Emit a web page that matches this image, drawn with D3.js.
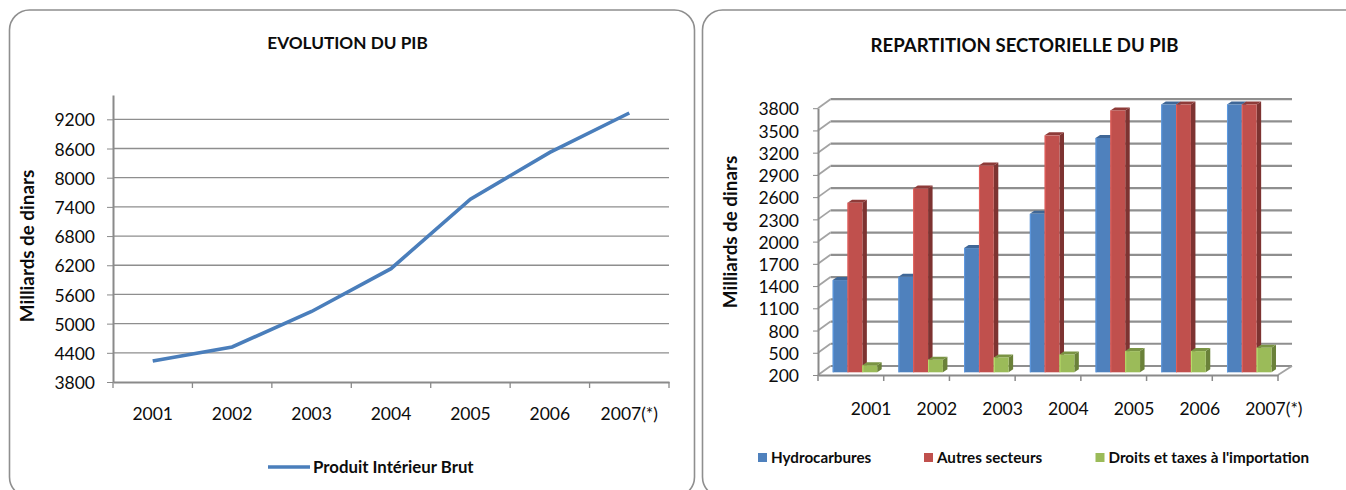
<!DOCTYPE html>
<html>
  <head>
    <meta charset="utf-8">
    <title>PIB</title>
    <style>
    html, body { margin: 0; padding: 0; background: #fff; overflow: hidden; }
    svg { display: block; }
    text { font-family: Lato, "Open Sans", sans-serif; fill: #0c0c0c; }
    .axis text { font-size: 17.5px; }
    .title { font-weight: 700; text-anchor: middle; }
    .ylabel { font-size: 18.8px; font-weight: 700; text-anchor: middle; }
    .legend { font-weight: 700; }
    .axis .domain, .axis line { stroke: #8a8a8a; }
    </style>
  </head>
  <body>
    <svg width="1346" height="490"></svg>
    <script src="https://d3js.org/d3.v7.min.js"></script>
    <script>

      var years = ["2001", "2002", "2003", "2004", "2005", "2006", "2007(*)"];

      // left chart
      var pib = [4230, 4520, 5250, 6130, 7560, 8520, 9330];
      var pibTicks = [3800, 4400, 5000, 5600, 6200, 6800, 7400, 8000, 8600, 9200];

      // right chart, the last bars are cut off by the axis maximum
      var seriesNames = ["Hydrocarbures", "Autres secteurs", "Droits et taxes à l'importation"];
      var hydrocarbures = [1440, 1485, 1870, 2330, 3350, 3800, 3800];
      var autres = [2480, 2670, 2980, 3385, 3720, 3800, 3800];
      var droits = [295, 370, 400, 440, 485, 485, 530];
      var sectorTicks = [200, 500, 800, 1100, 1400, 1700, 2000, 2300, 2600, 2900, 3200, 3500, 3800];

      var colors = ["#4f81bd", "#c0504d", "#9bbb59"];
      var sideColors = ["#385d8a", "#7d3331", "#6a8139"];
      var topColors = ["#3f6797", "#8e3b39", "#7a9444"];

      var svg = d3.select("svg");

      // panel frames
      svg.selectAll(".panel")
        .data([[9.5, 685], [702.5, 700]])
        .enter().append("rect")
          .attr("class", "panel")
          .attr("x", function(d) { return d[0]; })
          .attr("y", 10)
          .attr("width", function(d) { return d[1]; })
          .attr("height", 487)
          .attr("rx", 20)
          .attr("fill", "#fff")
          .attr("stroke", "#8f8f8f")
          .attr("stroke-width", 1.6);

      // ---- line chart ----
      var x1 = d3.scaleBand().domain(years).range([113, 669]);
      var y1 = d3.scaleLinear().domain([3800, 9700]).range([382, 95]);

      var g1 = svg.append("g");

      g1.append("g")
          .attr("class", "grid")
          .selectAll("line")
          .data(pibTicks.slice(1))
        .enter().append("line")
          .attr("x1", 113)
          .attr("x2", 669)
          .attr("y1", function(d) { return y1(d); })
          .attr("y2", function(d) { return y1(d); })
          .attr("stroke", "#8e8e8e")
          .attr("stroke-width", 1.3);

      var axisY1 = g1.append("g")
          .attr("class", "axis")
          .attr("transform", "translate(113,0)")
          .call(d3.axisLeft(y1).tickValues(pibTicks).tickFormat(d3.format("d")).tickSizeInner(6).tickSizeOuter(0).tickPadding(12));
      axisY1.select(".domain").attr("stroke-width", 2);
      axisY1.selectAll("text").attr("dy", "0.38em");

      var axisX1 = g1.append("g")
          .attr("class", "axis")
          .attr("transform", "translate(0,382)")
          .call(d3.axisBottom(x1).tickSize(0).tickPadding(26));
      axisX1.select(".domain").attr("stroke-width", 2);

      g1.append("g")
          .selectAll("line")
          .data(years.concat("end"))
        .enter().append("line")
          .attr("x1", function(d, i) { return x1.range()[0] + i * x1.step(); })
          .attr("x2", function(d, i) { return x1.range()[0] + i * x1.step(); })
          .attr("y1", 382)
          .attr("y2", 388)
          .attr("stroke", "#8a8a8a")
          .attr("stroke-width", 1.3);

      var line = d3.line()
          .x(function(d, i) { return x1(years[i]) + x1.bandwidth() / 2; })
          .y(function(d) { return y1(d); });

      g1.append("path")
          .datum(pib)
          .attr("d", line)
          .attr("fill", "none")
          .attr("stroke", "#4a7ebb")
          .attr("stroke-width", 3.6);

      g1.append("text").attr("class", "title").attr("x", 347.5).attr("y", 49)
          .style("font-size", "17.2px").text("EVOLUTION DU PIB");

      g1.append("text").attr("class", "ylabel")
          .attr("transform", "translate(34,246) rotate(-90)")
          .text("Milliards de dinars");

      g1.append("line")
          .attr("x1", 268).attr("x2", 310).attr("y1", 467).attr("y2", 467)
          .attr("stroke", "#4a7ebb").attr("stroke-width", 3.6);
      g1.append("text").attr("class", "legend").attr("x", 313).attr("y", 473)
          .style("font-size", "16.8px").text("Produit Intérieur Brut");

      // ---- pseudo 3D bars ----
      var depth = {x: 12.5, y: -9},
          barDepth = {x: 4.5, y: -3};

      var x2 = d3.scaleBand().domain(years).range([818, 1278]);
      var y2 = d3.scaleLinear().domain([200, 3800]).range([375, 108.2]);
      var yBar = d3.scaleLinear().domain([200, 3800]).range([372.3, 104.5]);
      var xInner = d3.scaleBand().domain(seriesNames).range([14.7, 59.2]);

      var g2 = svg.append("g");

      // back wall
      g2.append("g")
          .selectAll("line")
          .data(sectorTicks)
        .enter().append("line")
          .attr("x1", 818 + depth.x)
          .attr("x2", 1278 + depth.x + 1.5)
          .attr("y1", function(d) { return y2(d) + depth.y; })
          .attr("y2", function(d) { return y2(d) + depth.y; })
          .attr("stroke", "#8f8f8f")
          .attr("stroke-width", 2.2);

      // side wall
      g2.append("g")
          .selectAll("line")
          .data(sectorTicks)
        .enter().append("line")
          .attr("x1", 818)
          .attr("x2", 818 + depth.x)
          .attr("y1", function(d) { return y2(d); })
          .attr("y2", function(d) { return y2(d) + depth.y; })
          .attr("stroke", "#a3a3a3")
          .attr("stroke-width", 1.8);

      // floor right edge
      g2.append("line")
          .attr("x1", 1278).attr("x2", 1278 + depth.x + 1.5)
          .attr("y1", y2(200)).attr("y2", y2(200) + depth.y)
          .attr("stroke", "#a3a3a3").attr("stroke-width", 1.8);

      var axisY2 = g2.append("g")
          .attr("class", "axis")
          .attr("transform", "translate(818,0)")
          .call(d3.axisLeft(y2).tickValues(sectorTicks).tickFormat(d3.format("d")).tickSizeInner(5).tickSizeOuter(0).tickPadding(14));
      axisY2.select(".domain").attr("stroke-width", 2);
      axisY2.selectAll("text").attr("dy", "0.38em");

      var axisX2 = g2.append("g")
          .attr("class", "axis")
          .attr("transform", "translate(0,375)")
          .call(d3.axisBottom(x2).tickSize(0).tickPadding(28));
      axisX2.select(".domain").attr("stroke-width", 2);
      // these labels start at a fixed place in each band
      axisX2.selectAll("text")
          .attr("text-anchor", "start")
          .attr("dx", 0);

      g2.append("g")
          .selectAll("line")
          .data(years.concat("end"))
        .enter().append("line")
          .attr("x1", function(d, i) { return x2.range()[0] + i * x2.step(); })
          .attr("x2", function(d, i) { return x2.range()[0] + i * x2.step(); })
          .attr("y1", 375)
          .attr("y2", 381)
          .attr("stroke", "#8a8a8a")
          .attr("stroke-width", 1.5);

      var seriesValues = [hydrocarbures, autres, droits];

      seriesValues.forEach(function(values, s) {
        var name = seriesNames[s];
        var bars = g2.append("g").selectAll("g")
            .data(values)
          .enter().append("g");

        function left(i) { return x2(years[i]) + xInner(name); }
        var w = xInner.bandwidth();

        bars.append("path")
            .attr("fill", sideColors[s])
            .attr("d", function(d, i) {
              var l = left(i) + w, t = yBar(d), b = yBar(200);
              return "M" + l + "," + t + "l" + barDepth.x + "," + barDepth.y +
                     "L" + (l + barDepth.x) + "," + (b + barDepth.y) + "L" + l + "," + b + "Z";
            });

        bars.append("path")
            .attr("fill", topColors[s])
            .attr("d", function(d, i) {
              var l = left(i), t = yBar(d);
              return "M" + l + "," + t + "l" + barDepth.x + "," + barDepth.y +
                     "h" + w + "l" + (-barDepth.x) + "," + (-barDepth.y) + "Z";
            });

        bars.append("rect")
            .attr("x", function(d, i) { return left(i); })
            .attr("y", function(d) { return yBar(d); })
            .attr("width", w)
            .attr("height", function(d) { return yBar(200) - yBar(d); })
            .attr("fill", colors[s]);

        // lighter left edge of the front face
        bars.append("line")
            .attr("x1", function(d, i) { return left(i) + 0.5; })
            .attr("x2", function(d, i) { return left(i) + 0.5; })
            .attr("y1", function(d) { return yBar(d); })
            .attr("y2", yBar(200))
            .attr("stroke", d3.color(colors[s]).brighter(0.5))
            .attr("stroke-width", 1);
      });

      g2.append("text").attr("class", "title").attr("x", 1024.5).attr("y", 52)
          .style("font-size", "18.6px").text("REPARTITION SECTORIELLE DU PIB");

      g2.append("text").attr("class", "ylabel")
          .attr("transform", "translate(737,232) rotate(-90)")
          .text("Milliards de dinars");

      var legendX = [758, 924, 1095.5];
      var legend = g2.append("g").selectAll("g")
          .data(seriesNames)
        .enter().append("g")
          .attr("transform", function(d, i) { return "translate(" + legendX[i] + ",453)"; });

      legend.append("rect")
          .attr("width", 9)
          .attr("height", 9)
          .attr("fill", function(d, i) { return colors[i]; });

      legend.append("text")
          .attr("class", "legend")
          .attr("x", 13)
          .attr("y", 9.5)
          .style("font-size", "15.2px")
          .text(function(d) { return d; });

    </script>
  </body>
</html>
